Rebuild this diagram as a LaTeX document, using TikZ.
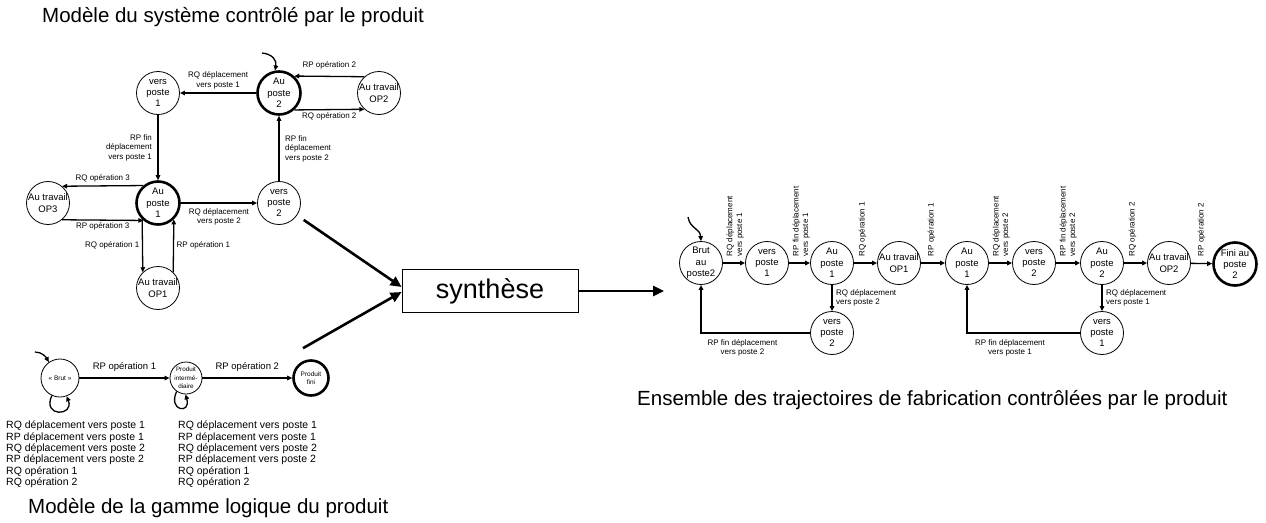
\documentclass[tikz,border=0pt]{standalone}
\usepackage{fontspec}
\setmainfont{Liberation Sans}
\usetikzlibrary{arrows.meta,positioning}

\begin{document}
\begin{tikzpicture}[
  x=1pt,
  y=-1pt,
  state/.style={
    circle,
    draw,
    line width=0.8pt,
    minimum size=43pt,
    inner sep=-4pt,
    align=center,
    font=\fontsize{9.5}{11.3}\selectfont
  },
  home/.style={state, line width=2.6pt},
  lbl/.style={inner sep=0.5pt, align=center, font=\fontsize{8}{9.5}\selectfont},
  vlbl/.style={lbl, align=left, anchor=north west, rotate=90},
  listing/.style={inner sep=0pt, anchor=north west, align=left, font=\fontsize{10.5}{11.3}\selectfont},
  title/.style={inner sep=0pt, anchor=west, font=\fontsize{20.5}{24}\selectfont},
  trans/.style={-{Triangle[length=5pt,width=4.5pt]}, line width=1.3pt},
  flow/.style={-{Triangle[length=11pt,width=10pt]}, line width=2.6pt},
]
\useasboundingbox[fill=white] (0,0) rectangle (1266,522);

% system model
\node[title] (title-sys) at (42,17) {Modèle du système contrôlé par le produit};

\node[state] (sys-vp1) at (158,93) {vers\\poste\\1};
\node[home] (sys-ap2) at (279,93) {Au\\poste\\2};
\node[state] (sys-op2) at (379,93) {Au travail\\OP2};
\node[home] (sys-ap1) at (158,203) {Au\\poste\\1};
\node[state] (sys-vp2) at (279,203) {vers\\poste\\2};
\node[state] (sys-op3) at (48,203) {Au travail\\OP3};
\node[state] (sys-op1) at (158,288) {Au travail\\OP1};
\coordinate (sys-init) at (262,53);

\draw[trans] (sys-init) .. controls (272,54) and (277,60) .. (sys-ap2.100);
\draw[trans] (sys-ap2) -- (sys-vp1)
  node[lbl, midway, above=3pt] {RQ déplacement\\vers poste 1};
\draw[trans] (sys-vp1) -- (sys-ap1)
  node[lbl, midway, left=5pt, align=right] {RP fin\\déplacement\\vers poste 1};
\draw[trans] (sys-ap1) -- (sys-vp2)
  node[lbl, midway, below=4pt] {RQ déplacement\\vers poste 2};
\draw[trans] (sys-vp2) -- (sys-ap2)
  node[lbl, midway, right=5pt, align=left] {RP fin\\déplacement\\vers poste 2};
\draw[trans] (sys-op2.132) -- (sys-ap2.48)
  node[lbl, midway, above=6pt] {RP opération 2};
\draw[trans] (sys-ap2.-48) -- (sys-op2.228)
  node[lbl, midway, below=2pt] {RQ opération 2};
\draw[trans] (sys-ap1.130) -- (sys-op3.50)
  node[lbl, midway, above=3pt] {RQ opération 3};
\draw[trans] (sys-op3.-50) -- (sys-ap1.230)
  node[lbl, midway, below=1pt] {RP opération 3};
\draw[trans] (sys-ap1.226) -- (sys-op1.134)
  node[lbl, midway, left=2pt] {RQ opération 1};
\draw[trans] (sys-op1.46) -- (sys-ap1.314)
  node[lbl, midway, right=2pt] {RP opération 1};

% logical routing
\node[state, minimum size=38pt, font=\fontsize{6.5}{8.3}\selectfont] (gam-brut) at (60,378) {«~Brut~»};
\node[state, minimum size=32pt, font=\fontsize{6.3}{8.3}\selectfont] (gam-inter) at (186,378) {Produit\\intermé-\\diaire};
\node[home, minimum size=35pt, font=\fontsize{6.5}{8.3}\selectfont] (gam-fini) at (311,378) {Produit\\fini};
\coordinate (gam-init) at (35,352);

\draw[trans] (gam-init) .. controls (42,352) and (46,357) .. (gam-brut.125);
\draw[trans] (gam-brut.245) .. controls +(-10,22) and +(8,20) .. (gam-brut.290);
\draw[trans] (gam-inter.235) .. controls +(-9,20) and +(6,20) .. (gam-inter.268);
\draw[trans] (gam-brut) -- (gam-inter)
  node[midway, above=6pt, inner sep=0pt, font=\fontsize{9.5}{11}\selectfont] {RP opération 1};
\draw[trans] (gam-inter) -- (gam-fini)
  node[midway, above=6pt, inner sep=0pt, font=\fontsize{9.5}{11}\selectfont] {RP opération 2};

\node[listing] (gam-brut-list) at (6,421) {RQ déplacement vers poste 1\\RP déplacement vers poste 1\\RQ déplacement vers poste 2\\RP déplacement vers poste 2\\RQ opération 1\\RQ opération 2};
\node[listing] (gam-inter-list) at (178,421) {RQ déplacement vers poste 1\\RP déplacement vers poste 1\\RQ déplacement vers poste 2\\RP déplacement vers poste 2\\RQ opération 1\\RQ opération 2};

\node[title] (title-gam) at (28,508) {Modèle de la gamme logique du produit};

% synthesis
\node[draw, line width=0.8pt, minimum width=176pt, minimum height=43pt, font=\fontsize{27}{30}\selectfont] (synth) at (490,291) {synthèse};
\coordinate (traj-in) at (664,291);

\draw[flow, shorten <=8pt] (sys-vp2) -- ([yshift=4pt]synth.west);
\draw[flow] ([shift={(-8,-11)}]gam-fini.north) -- ([yshift=-1pt]synth.west);
\draw[flow] (synth.east) -- (traj-in);

% trajectories
\node[state] (traj-brut) at (701,263) {Brut\\au\\poste2};
\node[state] (traj-vp1) at (767,263) {vers\\poste\\1};
\node[state] (traj-ap1) at (832,263) {Au\\poste\\1};
\node[state] (traj-op1) at (899,263) {Au travail\\OP1};
\node[state] (traj-ap1b) at (967,263) {Au\\poste\\1};
\node[state] (traj-vp2) at (1034,263) {vers\\poste\\2};
\node[state] (traj-ap2) at (1102,263) {Au\\poste\\2};
\node[state] (traj-op2) at (1169,263) {Au travail\\OP2};
\node[home] (traj-fini) at (1235,264) {Fini au\\poste\\2};
\node[state] (traj-vp2a) at (832,333) {vers\\poste\\2};
\node[state] (traj-vp1b) at (1102,333) {vers\\poste\\1};
\coordinate (traj-init) at (688,217);

\draw[trans] (traj-init) .. controls (690,229) and (700,228) .. (traj-brut.north);
\draw[trans] (traj-brut) -- (traj-vp1);
\draw[trans] (traj-vp1) -- (traj-ap1);
\draw[trans] (traj-ap1) -- (traj-op1);
\draw[trans] (traj-op1) -- (traj-ap1b);
\draw[trans] (traj-ap1b) -- (traj-vp2);
\draw[trans] (traj-vp2) -- (traj-ap2);
\draw[trans] (traj-ap2) -- (traj-op2);
\draw[trans] (traj-op2) -- (traj-fini);

\node[vlbl] at ([shift={(3,-6)}]traj-brut.east) {RQ déplacement\\vers poste 1};
\node[vlbl] at ([shift={(3,-6)}]traj-vp1.east) {RP fin déplacement\\vers poste 1};
\node[vlbl] at ([shift={(4,-6)}]traj-ap1.east) {RQ opération 1};
\node[vlbl] at ([shift={(6,-6)}]traj-op1.east) {RP opération 1};
\node[vlbl] at ([shift={(3,-6)}]traj-ap1b.east) {RQ déplacement\\vers poste 2};
\node[vlbl] at ([shift={(3,-6)}]traj-vp2.east) {RP fin déplacement\\vers poste 2};
\node[vlbl] at ([shift={(4,-6)}]traj-ap2.east) {RQ opération 2};
\node[vlbl] at ([shift={(6,-6)}]traj-op2.east) {RP opération 2};

\draw[trans] (traj-ap1) -- (traj-vp2a)
  node[lbl, midway, right=3pt, align=left] {RQ déplacement\\vers poste 2};
\draw[trans] (traj-ap2) -- (traj-vp1b)
  node[lbl, midway, right=3pt, align=left] {RQ déplacement\\vers poste 1};
\draw[trans] (traj-vp2a) -| (traj-brut)
  node[lbl, pos=0.31, below=5pt] {RP fin déplacement\\vers poste 2};
\draw[trans] (traj-vp1b) -| (traj-ap1b)
  node[lbl, pos=0.31, below=5pt] {RP fin déplacement\\vers poste 1};

\node[title] (title-traj) at (637,400) {Ensemble des trajectoires de fabrication contrôlées par le produit};
\end{tikzpicture}
\end{document}
